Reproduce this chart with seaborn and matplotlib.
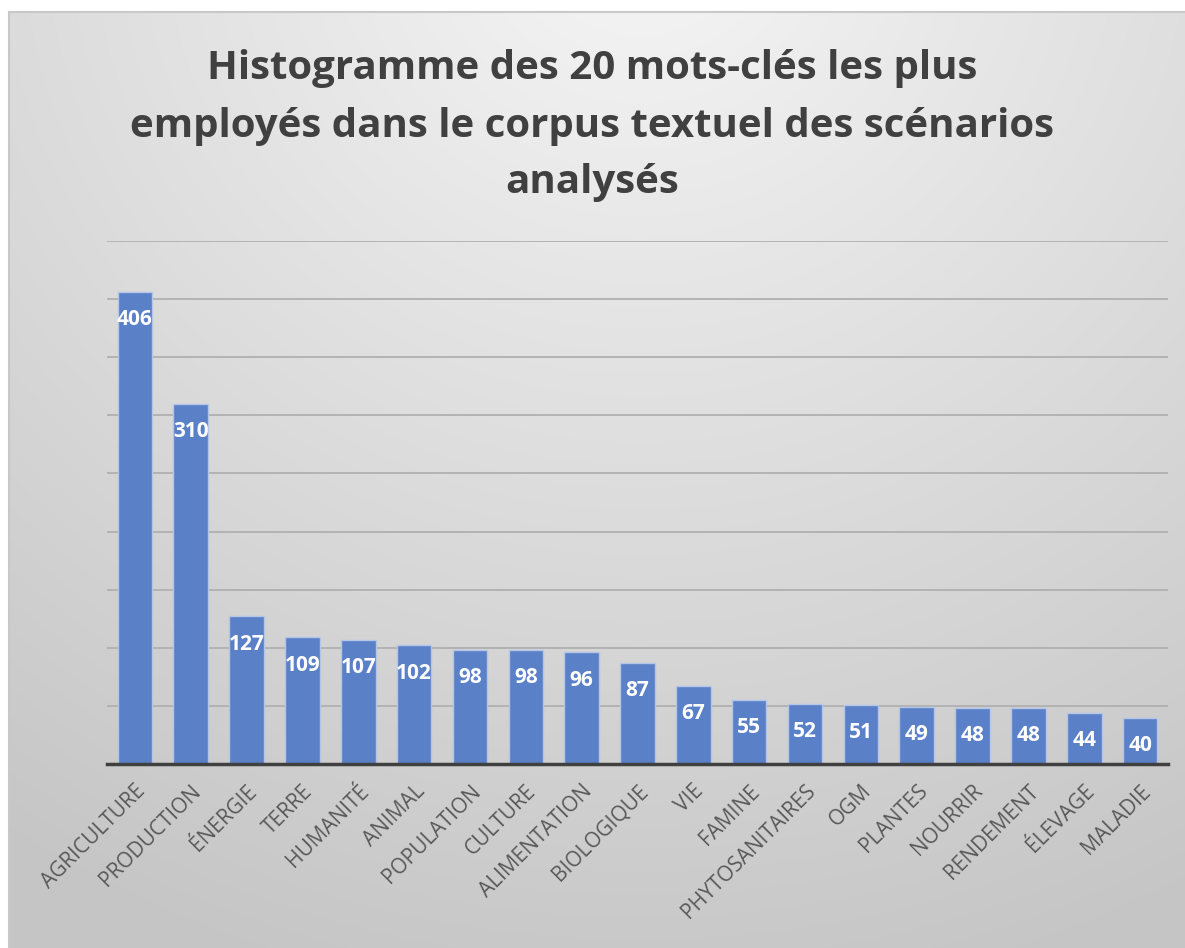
import numpy as np
import matplotlib
matplotlib.use("Agg")
import matplotlib.pyplot as plt
import seaborn as sns
import pandas as pd

categories = ["AGRICULTURE", "PRODUCTION", "ÉNERGIE", "TERRE", "HUMANITÉ", "ANIMAL",
              "POPULATION", "CULTURE", "ALIMENTATION", "BIOLOGIQUE", "VIE", "FAMINE",
              "PHYTOSANITAIRES", "OGM", "PLANTES", "NOURRIR", "RENDEMENT", "ÉLEVAGE", "MALADIE"]
values = [406, 310, 127, 109, 107, 102, 98, 98, 96, 87, 67, 55, 52, 51, 49, 48, 48, 44, 40]
title = "Histogramme des 20 mots-clés les plus\nemployés dans le corpus textuel des scénarios\nanalysés"

df = pd.DataFrame({"mot": categories, "n": values})

W, H = 1185, 948
fig = plt.figure(figsize=(W / 100, H / 100), dpi=100)

# background gradient panel
bg = fig.add_axes([0, 0, 1, 1], zorder=-10)
yy, xx = np.mgrid[0:H, 0:W]
r = np.sqrt(((xx - 640) / 1.0) ** 2 + ((yy + 80) * 1.05) ** 2)
v = 0.965 - 0.19 * np.clip(r / 1150, 0, 1)
img = np.dstack([v, v, v])
img[:12, :, :] = 1.0
img[:, :9, :] = 1.0
bg.imshow(img, extent=[0, W, H, 0], aspect="auto", interpolation="bilinear")
bg.plot([9, W], [12, 12], color="#c8c8c8", lw=1.5)
bg.plot([9, 9], [12, H], color="#c8c8c8", lw=1.5)
bg.set_xlim(0, W)
bg.set_ylim(H, 0)
bg.axis("off")

ax = fig.add_axes([107 / W, 184 / H, 1061 / W, 523 / H])
ax.patch.set_alpha(0)
sns.barplot(data=df, x="mot", y="n", color="#5a80c8", saturation=1, width=0.62,
            edgecolor="#b4c6e8", linewidth=1.0, ax=ax, zorder=3)
ax.set_ylim(0, 450)
ax.set_xlim(-0.5, len(categories) - 0.5)
ax.set_yticks(np.arange(50, 451, 50))
ax.yaxis.grid(True, color="#b0b0b0", lw=1.3, zorder=0)
ax.set_axisbelow(True)
ax.tick_params(axis="y", length=0, labelleft=False)
ax.tick_params(axis="x", length=0, pad=12)
for s in ["top", "right", "left"]:
    ax.spines[s].set_visible(False)
ax.spines["bottom"].set_color("#404040")
ax.spines["bottom"].set_linewidth(2.5)
ax.spines["bottom"].set_zorder(5)
ax.set_xlabel("")
ax.set_ylabel("")
ax.set_xticks(range(len(categories)))
ax.set_xticklabels(categories, rotation=45, ha="right", va="top", rotation_mode="anchor",
                   fontsize=15, color="#595959", family="Open Sans")

for i, val in enumerate(values):
    ax.annotate(str(val), xy=(i, val), xytext=(0, -20), textcoords="offset points",
                ha="center", va="center", color="white", fontsize=15, fontweight="bold",
                family="Open Sans", zorder=6)

fig.text(0.5, 1 - 126 / H, title, ha="center", va="center", fontsize=29, fontweight="bold",
         color="#404040", family="Open Sans", linespacing=1.6)

fig.savefig("out.png", dpi=100)
